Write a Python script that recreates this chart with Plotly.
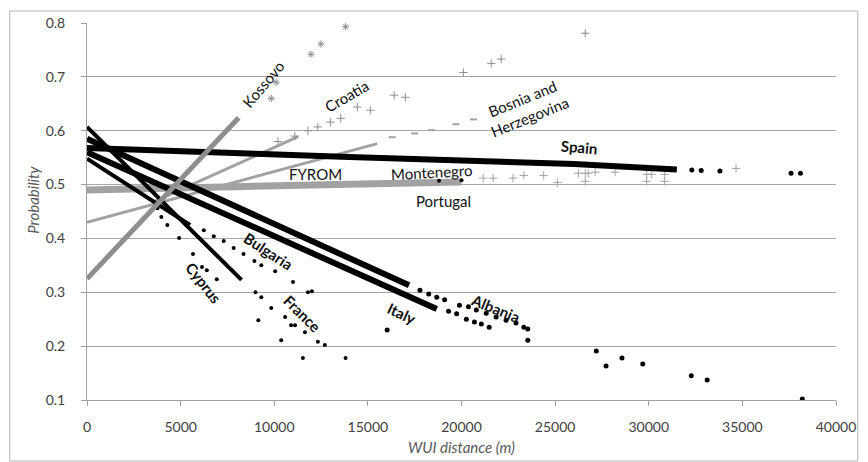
import plotly.graph_objects as go

# ---------------- data ----------------
# dense (continuous) parts of each country's predicted-probability curve
spain_x = [0, 5000, 9000, 14000, 20000, 26000, 31500]
spain_y = [0.568, 0.563, 0.557, 0.551, 0.545, 0.538, 0.528]
spain_pts_x = [32300, 32800, 33800, 37600, 38100]
spain_pts_y = [0.527, 0.526, 0.525, 0.521, 0.521]

albania_x = [0, 6000, 12860, 17200]
albania_y = [0.585, 0.490, 0.382, 0.313]
albania_pts_x = [17780, 18250, 18680, 19100, 19890, 20370, 20790, 21320, 21850, 22380, 22910, 23330, 23540, 23540]
albania_pts_y = [0.304, 0.297, 0.291, 0.286, 0.276, 0.273, 0.267, 0.261, 0.254, 0.248, 0.243, 0.235, 0.232, 0.211]

italy_x = [0, 5450, 12860, 18680]
italy_y = [0.560, 0.475, 0.360, 0.269]
italy_pts_x = [16030, 19310, 19740, 20260, 20690, 21060, 21480,
               27200, 27720, 28570, 29680, 32270, 33120, 38200]
italy_pts_y = [0.230, 0.265, 0.260, 0.250, 0.245, 0.241, 0.235,
               0.191, 0.163, 0.178, 0.167, 0.145, 0.137, 0.102]

cyprus_x = [0, 4000, 8250]
cyprus_y = [0.607, 0.470, 0.323]
cyprus_pts_x = [3760, 3970, 4290, 4920, 5660, 6140, 6400, 6930]
cyprus_pts_y = [0.456, 0.440, 0.425, 0.401, 0.371, 0.347, 0.341, 0.324]

bulgaria_x = [0, 5500]
bulgaria_y = [0.548, 0.425]
bulgaria_pts_x = [6240, 6770, 7300, 7830, 8360, 8940, 9310, 10050, 11000, 11800, 12010]
bulgaria_pts_y = [0.415, 0.404, 0.395, 0.382, 0.371, 0.358, 0.350, 0.339, 0.319, 0.300, 0.302]

france_pts_x = [9000, 9310, 9840, 10580, 10900, 11110, 11640, 12330, 12700,
                9150, 10370, 11530, 13810]
france_pts_y = [0.300, 0.291, 0.271, 0.254, 0.239, 0.239, 0.226, 0.208, 0.202,
                0.248, 0.211, 0.178, 0.178]

portugal_pts_x = [18800, 20000]
portugal_pts_y = [0.507, 0.508]

kossovo_x = [0, 8100]
kossovo_y = [0.325, 0.624]
kossovo_pts_x = [9840, 10100, 11960, 12490, 13810]
kossovo_pts_y = [0.660, 0.690, 0.742, 0.761, 0.793]

croatia_x = [3500, 11270]
croatia_y = [0.467, 0.589]
croatia_pts_x = [10200, 11100, 11800, 12330, 13000, 13550, 14440, 15130, 16400, 17000,
                 20100, 21590, 22120, 26610]
croatia_pts_y = [0.580, 0.590, 0.600, 0.607, 0.616, 0.623, 0.644, 0.638, 0.666, 0.662,
                 0.708, 0.725, 0.733, 0.781]

bosnia_x = [0, 15500]
bosnia_y = [0.430, 0.576]
bosnia_pts_x = [16300, 17500, 18400, 19700, 20640]
bosnia_pts_y = [0.588, 0.595, 0.601, 0.612, 0.621]

fyrom_x = [0, 5000, 12000, 20000]
fyrom_y = [0.490, 0.495, 0.499, 0.505]
montenegro_pts_x = [21160, 21690, 22750, 23330, 24390, 26240, 26610, 26770, 27140, 28200,
                    29890, 30160, 30850, 34660,
                    25130, 26610, 29890, 30850]
montenegro_pts_y = [0.512, 0.512, 0.512, 0.517, 0.517, 0.521, 0.521, 0.521, 0.523, 0.523,
                    0.519, 0.519, 0.519, 0.530,
                    0.504, 0.506, 0.506, 0.506]

# labels placed on the chart
label_text = ["Kossovo", "Croatia", "Bosnia and<br>Herzegovina", "Spain", "Montenegro",
              "FYROM", "Portugal", "Bulgaria", "Cyprus", "France", "Italy", "Albania"]
label_x = [9418, 13862, 23440, 26296, 18413, 12222, 19048, 9683, 6243, 11534, 16772, 21799]
label_y = [0.686, 0.664, 0.642, 0.569, 0.523, 0.519, 0.469, 0.376, 0.317, 0.260, 0.261, 0.271]
label_angle = [-50, -30, -22, 5, -3, 0, 0, 33, 52, 45, 25, 22]
label_bold = [False, False, False, True, False, False, False, True, True, True, True, True]

x_ticks = [0, 5000, 10000, 15000, 20000, 25000, 30000, 35000, 40000]
y_ticks = [0.1, 0.2, 0.3, 0.4, 0.5, 0.6, 0.7, 0.8]

# ---------------- figure ----------------
BLACK = "#000000"
GRAY = "#8e8e8e"
LGRAY = "#a2a2a2"

fig = go.Figure()


def band(x, y, color, width):
    fig.add_trace(go.Scatter(x=x, y=y, mode="lines", line=dict(color=color, width=width),
                             hoverinfo="skip", showlegend=False))


def pts(x, y, color, symbol="circle", size=5, lw=0):
    fig.add_trace(go.Scatter(x=x, y=y, mode="markers",
                             marker=dict(color=color, symbol=symbol, size=size,
                                         line=dict(color=color, width=lw)),
                             hoverinfo="skip", showlegend=False))


# gray series (drawn first, under black ones partly)
band(fyrom_x, fyrom_y, LGRAY, 7)
pts(montenegro_pts_x, montenegro_pts_y, LGRAY, "cross-thin", 6, 1)
band(bosnia_x, bosnia_y, LGRAY, 3)
pts(bosnia_pts_x, bosnia_pts_y, LGRAY, "line-ew", 5, 2)
band(croatia_x, croatia_y, LGRAY, 3)
pts(croatia_pts_x, croatia_pts_y, GRAY, "cross-thin", 6, 1)

# black series
band(spain_x, spain_y, BLACK, 6)
pts(spain_pts_x, spain_pts_y, BLACK, "circle", 5)
band(albania_x, albania_y, BLACK, 6)
pts(albania_pts_x, albania_pts_y, BLACK, "circle", 5)
band(italy_x, italy_y, BLACK, 6)
pts(italy_pts_x, italy_pts_y, BLACK, "circle", 5)
band(cyprus_x, cyprus_y, BLACK, 4)
pts(cyprus_pts_x, cyprus_pts_y, BLACK, "circle", 4)
band(bulgaria_x, bulgaria_y, BLACK, 4)
pts(bulgaria_pts_x, bulgaria_pts_y, BLACK, "circle", 4)
pts(france_pts_x, france_pts_y, BLACK, "circle", 4)
pts(portugal_pts_x, portugal_pts_y, BLACK, "circle", 4)

# Kossovo on top
band(kossovo_x, kossovo_y, GRAY, 5)
pts(kossovo_pts_x, kossovo_pts_y, GRAY, "asterisk-open", 6, 1)

FONT = "Lato, 'Open Sans', sans-serif"

for t, x, y, a, b in zip(label_text, label_x, label_y, label_angle, label_bold):
    fig.add_annotation(x=x, y=y, xref="x", yref="y", text=f"<b>{t}</b>" if b else t,
                       textangle=a, showarrow=False, xanchor="center", yanchor="middle",
                       font=dict(family=FONT, size=15, color="#111111"))

# axis titles
fig.add_annotation(x=-0.0714, y=0.53, xref="paper", yref="paper", text="<i>Probability</i>",
                   textangle=-90, showarrow=False, xanchor="center", yanchor="middle",
                   font=dict(family=FONT, size=15, color="#595959"))
fig.add_annotation(x=0.5, y=-0.125, xref="paper", yref="paper", text="<i>WUI distance (m)</i>",
                   showarrow=False, xanchor="center", yanchor="middle",
                   font=dict(family=FONT, size=15, color="#595959"))

# outer chart border
fig.add_shape(type="rect", xref="paper", yref="paper", x0=-0.1032, x1=1.0291, y0=-0.1618, y1=1.0318,
              line=dict(color="#b4b4b4", width=1))

fig.update_layout(
    width=868, height=462,
    margin=dict(l=87, r=25, t=23, b=62),
    paper_bgcolor="white", plot_bgcolor="white",
    showlegend=False,
    font=dict(family=FONT, size=14, color="#404040"),
    xaxis=dict(range=[0, 40000], tickvals=x_ticks, ticktext=[str(v) for v in x_ticks],
               showgrid=False, zeroline=False, showline=True, linecolor="#a0a0a0", linewidth=1,
               ticks="outside", ticklen=5, tickcolor="#a0a0a0", ticklabelstandoff=9,
               tickfont=dict(family=FONT, size=14, color="#404040")),
    yaxis=dict(range=[0.1, 0.8], tickvals=y_ticks, ticktext=[f"{v:.1f}" for v in y_ticks],
               showgrid=True, gridcolor="#a6a6a6", gridwidth=1.2, zeroline=False,
               showline=True, linecolor="#a0a0a0", linewidth=1,
               ticks="outside", ticklen=5, tickcolor="#a0a0a0", ticklabelstandoff=13,
               tickfont=dict(family=FONT, size=14, color="#404040")),
)

fig.write_html("out.html", config={"displayModeBar": False},
               post_script="document.body.style.margin='0';document.body.style.overflow='hidden';")
